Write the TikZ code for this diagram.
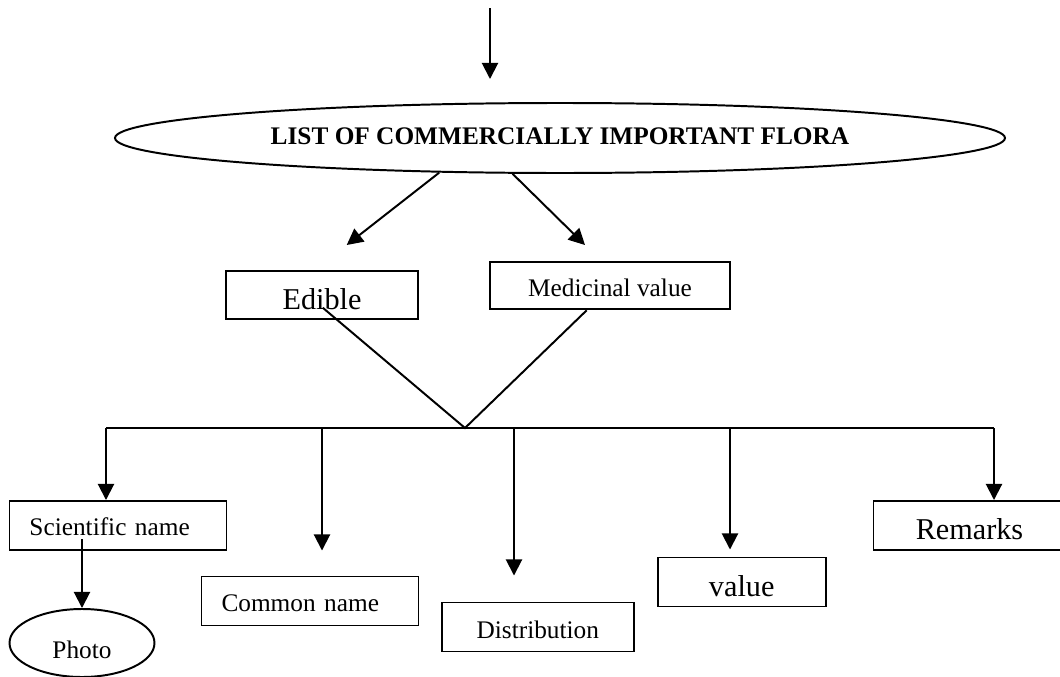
\documentclass[tikz,border=0pt]{standalone}
\usepackage{fontspec}
\setmainfont{Liberation Serif}
\usetikzlibrary{arrows.meta,shapes.geometric,calc}
\newlength{\pxu}\setlength{\pxu}{0.025cm}
\newcommand{\floratext}{\fontsize{18}{22}\selectfont}
\newcommand{\floralarge}{\fontsize{21.5}{26}\selectfont}
\newcommand{\drawline}{\draw[line width=1.4pt]}
\newcommand{\drawarrow}{\draw[line width=1.4pt,-{Triangle[length=11.5pt,width=11.5pt]}]}
\tikzset{
  box/.style={draw, line width=1.4pt, inner sep=0pt, minimum height=49\pxu, font=\floratext, text height=22\pxu, text depth=0pt},
  bigbox/.style={box, font=\floralarge, text height=28\pxu},
  leftbox/.style={box, align=left, inner xsep=20\pxu, text width=177\pxu, text height=20\pxu},
  oval/.style={draw, ellipse, line width=1.4pt, inner sep=0pt, font=\floratext, text depth=0pt}
}

\begin{document}
\begin{tikzpicture}[x=0.025cm,y=-0.025cm]
\clip (0,0) rectangle (1060,677);
\node[oval, minimum width=890\pxu, minimum height=70\pxu, font=\floratext\bfseries, text height=12\pxu] (flora) at (560,138) {LIST OF COMMERCIALLY IMPORTANT FLORA};
\node[bigbox, minimum width=192.6\pxu, minimum height=48.6\pxu] (edible) at (322,295) {Edible};
\node[box, minimum width=240\pxu, minimum height=47.6\pxu] (medicinal) at (610,285.5) {Medicinal value};
\node[leftbox] (sciname) at (118,525.5) {Scientific name};
\node[leftbox] (comname) at (310,601) {Common name};
\node[box, minimum width=192.5\pxu] (distrib) at (537.8,627) {Distribution};
\node[bigbox, minimum width=168\pxu] (value) at (741.7,582) {value};
\node[bigbox, minimum width=192\pxu] (remarks) at (969.5,525.5) {Remarks};
\node[oval, minimum width=145\pxu, minimum height=68\pxu, text height=30\pxu] (photo) at (82,643) {Photo};
\coordinate (topstart) at (490,8);
\coordinate (vtip) at (465,428);
\coordinate (jsci) at (106,428);
\coordinate (jcom) at (322,428);
\coordinate (jdis) at (514,428);
\coordinate (jval) at (730,428);
\coordinate (jrem) at (994,428);
\drawarrow (topstart) -- ($(flora.north -| topstart)+(0,-23)$);
\drawarrow (flora.196) -- ($(edible.north)+(24.7,-24.7)$);
\drawarrow (flora.217.7) -- ($(medicinal.north)+(-25,-15.7)$);
\drawline ($(edible.south)+(0.7,-12.6)$) -- (vtip) -- ($(medicinal.south)+(-23.3,0)$);
\drawline (jsci) -- (jrem);
\drawarrow (jsci) -- (jsci |- sciname.north);
\drawarrow (jcom) -- ($(jcom |- comname.north)+(0,-25)$);
\drawarrow (jdis) -- ($(jdis |- distrib.north)+(0,-26)$);
\drawarrow (jval) -- ($(jval |- value.north)+(0,-7)$);
\drawarrow (jrem) -- (jrem |- remarks.north);
\drawarrow ($(sciname.south -| photo.north)+(0,-11.6)$) -- (photo.north);
\end{tikzpicture}
\end{document}
